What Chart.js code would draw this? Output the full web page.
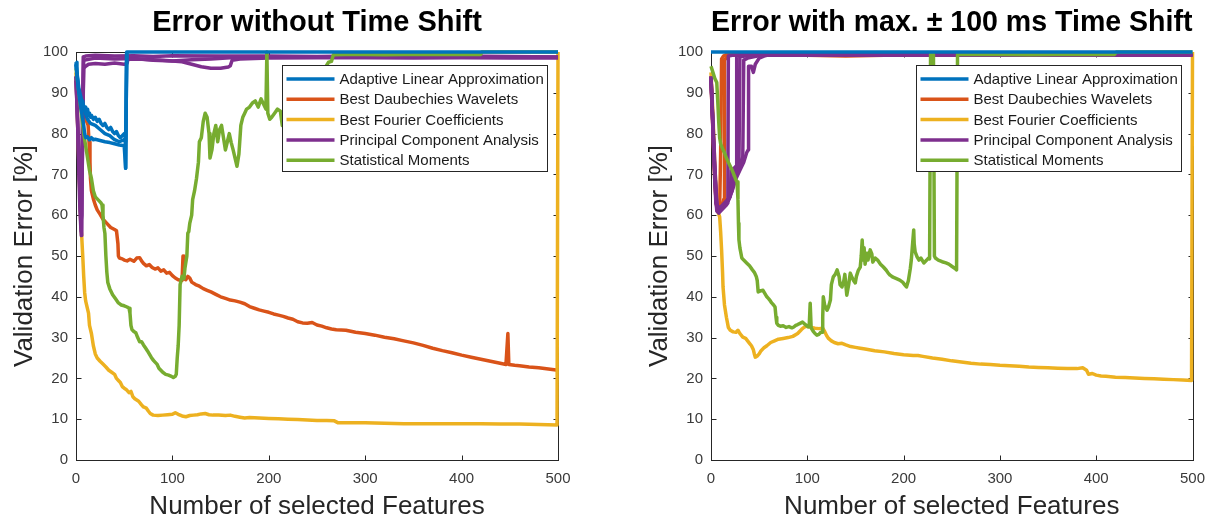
<!DOCTYPE html>
<html>
<head>
<meta charset="utf-8">
<script src="https://cdn.jsdelivr.net/npm/chart.js@4.4.1/dist/chart.umd.min.js"></script>
<style>
  html, body { margin: 0; padding: 0; background: #ffffff; }
  #wrap { position: relative; width: 1216px; height: 520px; overflow: hidden; }
  canvas { position: absolute; top: 0; }
  #leftChart { left: 0; }
  #rightChart { left: 608px; }
</style>
</head>
<body>
<div id="wrap">
  <canvas id="leftChart" width="608" height="520"></canvas>
  <canvas id="rightChart" width="608" height="520"></canvas>
</div>
<script>
// ---- labels, ticks, colours ----
const methodNames = [
  'Adaptive Linear Approximation',
  'Best Daubechies Wavelets',
  'Best Fourier Coefficients',
  'Principal Component Analysis',
  'Statistical Moments'
];
const methodColors = ['#0072BD', '#D95319', '#EDB120', '#7E2F8E', '#77AC30'];
// lower number = painted later (on top)
const methodLayer = [0, 4, 3, 2, 1];

const xTicks = [0, 100, 200, 300, 400, 500];
const yTicks = [0, 10, 20, 30, 40, 50, 60, 70, 80, 90, 100];

const leftTitle = 'Error without Time Shift';
const rightTitle = 'Error with max. \u00B1 100 ms Time Shift';
const xAxisTitle = 'Number of selected Features';
const yAxisTitle = 'Validation Error [%]';

// ---- validation error [%] vs. number of selected features, no time shift ----
const noShiftALA1 = [[0,97.5],[1,95],[2,92],[3,90],[4,89],[5,88.5],[6,87],[7,88],[8,86.5],[9,86],[10,86.5],[11,85],[12,86],[13,84.5],[14,85],[15,84],[16,84.5],[18,83.5],[20,84],[22,83],[24,83.5],[26,82.5],[28,82],[30,82.5],[32,81.5],[34,81],[36,81.5],[38,80.5],[40,80],[42,80.5],[44,79.5],[46,79],[48,79.5],[50,80],[51,79.5],[51.5,71.5],[52.6,100],[500,100]];
const noShiftALA2 = [[0,97],[2,92],[4,88],[6,85],[8,82],[9,80],[10,79],[12,79.2],[14,78.5],[16,79],[18,78.5],[20,78.6],[25,78.3],[30,78],[35,77.8],[40,77.5],[45,77.2],[50,77],[51.5,71.5],[52.6,100]];
const noShiftALA3 = [[0,97],[3,91],[6,88],[9,85.5],[12,83.5],[15,82.5],[20,82],[25,81],[30,80],[35,79.5],[40,78.5],[45,78],[50,78.5],[51.5,78],[52.6,100]];
const noShiftBDW = [[0,93],[3,90],[6,87.5],[9,85],[11,83],[12.6,82],[13.5,78],[14.5,73],[15,69],[16,66],[17,65],[18,64],[20,62.5],[22,61.3],[25,60.2],[28,59],[32,58],[36,57],[40,56.5],[42,56.2],[43.5,53],[44,50],[45,49.5],[48,49.3],[50,49],[53,48.8],[56,49.2],[60,48.7],[63,49.5],[66,49.6],[68,48.8],[70,48.2],[73,47.6],[76,47.9],[79,47.2],[82,46.8],[85,47.1],[88,46.3],[91,46.6],[94,45.8],[97,46],[100,45.2],[103,44.6],[106,44.2],[110,44],[111,50],[112,44.5],[114,44.2],[116,45],[118,44.6],[120,43.6],[124,43],[128,42.6],[132,42],[136,41.6],[140,41.2],[145,40.6],[150,40],[155,39.6],[160,39.2],[165,39],[170,38.7],[175,38.3],[180,37.6],[185,37.2],[190,36.8],[195,36.5],[200,36.2],[205,35.8],[210,35.5],[215,35.2],[220,34.8],[225,34.5],[230,33.9],[235,33.6],[240,33.5],[245,33.7],[250,33.1],[255,32.8],[260,32.4],[265,32.1],[270,31.9],[280,31.8],[290,31.3],[300,31],[310,30.6],[320,30.1],[330,29.7],[340,29.2],[350,28.7],[360,28.1],[370,27.4],[380,26.8],[390,26.3],[400,25.7],[410,25.2],[420,24.7],[430,24.2],[440,23.7],[446,23.4],[448,31],[449,23.4],[455,23.2],[460,23.1],[470,22.8],[480,22.6],[490,22.3],[500,22]];
const noShiftBFC = [[0,95],[2,80],[4,65],[5,58],[6,54.5],[7,50],[8,45],[9,41],[10,39],[12,37],[13,36],[14,33],[16,31],[18,28],[20,26],[22,25],[25,24.2],[28,23.5],[31,22.8],[34,22],[37,21.5],[40,21],[42,20],[44,19.5],[46,19],[48,18],[50,17.6],[52,17.3],[55,16.5],[57,16.8],[59,15.5],[61,15],[63,14.7],[65,14.4],[68,13.5],[70,13],[73,12.7],[75,12],[77,11.4],[80,11],[85,10.9],[90,11],[95,11.1],[100,11.2],[103,11.6],[106,11.2],[110,10.8],[114,10.6],[118,10.9],[122,11],[126,11.1],[130,11.3],[134,11.4],[138,11.1],[142,11],[148,11],[155,10.9],[160,11],[165,10.7],[170,10.5],[175,10.3],[180,10.4],[190,10.3],[200,10.2],[210,10.1],[220,10],[230,9.9],[240,9.8],[250,9.7],[260,9.7],[268,9.6],[272,9.1],[280,9.1],[300,9.1],[320,9],[340,8.9],[360,8.9],[380,8.9],[400,8.9],[420,8.9],[440,8.8],[460,8.8],[480,8.7],[499,8.6],[500,100]];
const noShiftPCA1 = [[0,94],[1,88],[2,80],[3,70],[4,62],[5,57],[5.5,55],[6,70],[7,90],[7.5,98.8],[10,99],[20,99.2],[40,99],[60,99.1],[80,98.9],[100,99.1],[150,99],[200,99],[250,98.9],[300,99],[350,98.9],[400,99],[450,98.9],[500,98.8]];
const noShiftPCA2 = [[0,93],[3,75],[5,58],[6,60],[7,85],[8,96],[10,96.5],[13,97],[20,97.2],[30,97],[40,97.3],[50,97],[53,97.2],[54,98.3],[70,98.2],[90,98],[110,97.6],[120,97],[130,96.4],[140,96],[150,96],[158,96.3],[160,96.6],[162,98],[170,98.3],[200,98.5],[250,98.6],[300,98.6],[350,98.5],[400,98.6],[450,98.5],[500,98.5]];
const noShiftPCA3 = [[0,94],[4,66],[5.5,56],[7,80],[8,98],[20,98.5],[40,98.3],[60,98.4],[80,98],[100,97.8],[120,98.1],[140,98.3],[160,98.6],[200,98.8],[300,98.7],[400,98.8],[500,98.8]];
const noShiftSM = [[0,96],[2,92],[4,88],[6,84],[8,80],[10,77],[12,74],[14,71],[16,69],[18,66],[20,64.5],[22,64],[24,63.5],[26,63],[27,62.5],[28,60],[29,57],[30,55.5],[31,50],[32,46],[33,43.5],[35,42],[38,40.5],[41,39.5],[44,38.5],[47,38],[50,37.8],[53,37.5],[55,37.2],[56,36],[57,33],[58,32],[60,31.5],[62,31.2],[64,30],[66,29],[68,29],[70,28.2],[72,27.5],[74,26.8],[76,26],[78,25.2],[80,24.5],[82,24],[84,23.5],[86,22.5],[88,22],[90,21.5],[93,21],[96,20.8],[99,20.5],[101,20.2],[103,20.5],[104,21],[105,25],[106,28],[107,33],[108,43],[110,45],[112,44.5],[113,47],[115,50],[116,55.6],[117,56],[118,58],[120,60],[121,63.8],[123,66],[125,69],[127,73],[128,78],[130,79],[132,83],[134,85],[136,84],[138,80],[139,74],[141,76],[143,80],[145,82],[147,78],[149,81],[151,82],[153,79],[155,76],[157,78],[159,80],[161,77.8],[163,76],[165,74],[167,72],[169,75],[171,82],[173,84],[175,85],[177,86],[180,86.5],[183,87.5],[186,88],[189,86.5],[192,88.5],[195,87],[197,86],[198,100],[199,85],[201,83.5],[203,84],[206,85],[209,86],[212,85.5],[214,82],[216,81.7],[220,83],[228,85],[236,87],[244,90],[252,93],[258,96],[262,97.5],[265,97.7],[267,99.3],[280,99.4],[300,99.4],[320,99.3],[340,99.4],[360,99.4],[380,99.4],[400,99.4],[420,99.4],[421,100],[440,100],[500,100]];

// ---- validation error [%] vs. number of selected features, max. +-100 ms shift ----
const shiftALA = [[0,100],[100,100],[200,100],[300,100],[400,100],[500,100]];
const shiftBDW1 = [[0,94],[2,82],[4,70],[5,64],[6,62],[8,61.5],[9,62],[10,75],[11,98.3],[13,99],[16,99.4],[30,99.4],[60,99.3],[100,99.2],[140,99],[180,99.2],[250,99.3],[350,99.3],[500,99.3]];
const shiftBDW2 = [[0,93],[4,68],[6,62],[10,62.5],[12,63],[13.5,64],[14,98],[18,99.2],[40,99.3],[100,99.2],[200,99.2],[300,99.3],[500,99.2]];
const shiftBFC = [[0,95],[2,85],[4,72],[6,64],[7,61],[9,59.6],[10,56],[11,51.5],[12,46],[12.5,42.4],[14,38],[16,35],[18,32.5],[20,31.8],[23,31.4],[26,31.3],[28,31.8],[30,31],[33,30.1],[36,29.8],[38,29.2],[40,28.6],[42,28],[44,27],[45,26],[46,25.2],[48,25.5],[50,26],[52,26.8],[55,27.5],[58,28],[62,28.8],[66,29.2],[70,29.6],[75,29.8],[80,30],[85,30.3],[90,31],[94,32],[97,32.6],[100,32.8],[104,32.5],[108,32.3],[112,32.2],[116,32.3],[118,31.5],[120,30.5],[122,29.8],[125,29.2],[128,28.8],[132,28.5],[136,28.6],[140,28.2],[145,27.8],[150,27.6],[155,27.4],[160,27.2],[170,26.8],[180,26.5],[190,26.1],[200,25.8],[210,25.6],[215,25.6],[220,25.4],[230,25],[240,24.7],[250,24.3],[260,24],[270,23.7],[280,23.5],[290,23.4],[300,23.2],[310,23.1],[320,23],[330,22.8],[340,22.7],[350,22.6],[360,22.5],[370,22.4],[380,22.4],[386,22.6],[390,22],[392,21],[396,21.2],[400,20.8],[405,20.6],[410,20.5],[420,20.3],[430,20.2],[440,20.1],[450,20],[460,19.9],[470,19.8],[480,19.7],[490,19.6],[499,19.5],[500,100]];
const shiftPCA1 = [[0,94],[2,82],[4,68],[6,61],[8,60.5],[10,61],[12,61.5],[14,62],[16,62.5],[17.5,63],[18,99],[22,99.2],[30,99.3],[50,99.4],[100,99.3],[200,99.3],[300,99.3],[400,99.3],[500,99.3]];
const shiftPCA2 = [[0,93],[3,75],[6,62],[10,62],[14,63],[18,64],[20,65],[21,71],[24,71.5],[26,72],[26.7,99],[35,99.2],[60,99.4],[500,99.3]];
const shiftPCA3 = [[0,94],[4,70],[7,61],[12,62],[16,63],[20,64.5],[22,68],[25,70],[28,71.5],[31,73],[33,74.3],[34,98],[38,98.5],[48,99],[60,99.3],[500,99.3]];
const shiftPCA4 = [[0,93.5],[5,63],[9,61],[14,62.5],[18,64],[22,66],[26,69],[30,71],[34,73],[37,75.3],[38.5,76],[39,96.5],[42,96.5],[44,95],[46,97],[50,98.5],[55,99],[61,99.4],[500,99.2]];
const shiftPCA5 = [[0,94],[6,61.5],[12,62],[18,63.5],[22,66],[25,71],[29,72],[30,98.8],[40,99.2],[500,99.3]];
const shiftSM = [[0,96.5],[2,95],[4,93.5],[6,92.5],[7,88],[8,83],[9,79],[10,77.5],[12,76.3],[14,75.3],[16,74],[18,73],[20,72],[22,71],[24,69.8],[26,68.6],[27,68.2],[28,63.8],[28.5,58],[29,54],[30,52],[32,49.5],[34,49],[37,48.3],[40,47.6],[43,46.6],[45,46],[47,45],[48,44],[49,41.2],[52,41.5],[54,41.6],[56,40.8],[58,40],[60,39.5],[61,39.2],[63,38.5],[65,38],[66.5,37.5],[67.5,35],[68.3,33.5],[70,33],[72,32.8],[75,32.9],[78,32.5],[81,32.7],[84,32.4],[86,32.6],[88,33],[90,33.2],[92.5,33.5],[95,33.8],[97,33.4],[99,33],[101,32.6],[102,33],[103,38.4],[104,32.4],[106,31.6],[108,31],[110,30.6],[112,30.8],[114,31.3],[115.4,31.3],[116,35],[116.6,40],[118,38],[120.5,36.7],[122,37.5],[124,39.2],[125,43],[127,44.9],[129,45.5],[131,46.6],[133,45],[134,43],[136,42.4],[138,44],[139,45.5],[140,43],[141,40.4],[143,43],[144.6,45.8],[146,45],[148,44],[149.8,43.4],[151,45],[153,46.5],[155,47.3],[156,50],[157,53.9],[158,49],[159,52],[160,48],[162,50.7],[163,49],[165.3,51.5],[167,50.5],[168,48.5],[170.5,49.5],[173,49],[176,48],[179,47.3],[182,46.5],[184,45.8],[186,45.3],[189,44.8],[192,44.5],[196,44.1],[199,43.6],[201,43],[203,42.4],[205,44],[207,47],[208,49],[209,52],[210.5,56.4],[211,53],[212,51],[214,49.8],[216,49],[218,49.5],[221,48.3],[224,49],[226,49.5],[227,49.3],[228,99.4],[231,99.4],[232,50],[233,49.5],[236,49],[240,48.6],[244,48.3],[247,48],[250,47.5],[253,47],[255,46.6],[256,99.4],[270,99.4],[300,99.4],[330,99.3],[360,99.4],[390,99.4],[419,99.4],[421,100],[440,100],[500,100]];

// each trace: which method it belongs to and its points
const leftTraces = [
  { m: 0, pts: noShiftALA1 }, { m: 0, pts: noShiftALA2 }, { m: 0, pts: noShiftALA3 },
  { m: 1, pts: noShiftBDW },
  { m: 2, pts: noShiftBFC },
  { m: 3, pts: noShiftPCA1 }, { m: 3, pts: noShiftPCA2 }, { m: 3, pts: noShiftPCA3 },
  { m: 4, pts: noShiftSM }
];
const rightTraces = [
  { m: 0, pts: shiftALA },
  { m: 1, pts: shiftBDW1 }, { m: 1, pts: shiftBDW2 },
  { m: 2, pts: shiftBFC },
  { m: 3, pts: shiftPCA1 }, { m: 3, pts: shiftPCA2 }, { m: 3, pts: shiftPCA3 },
  { m: 3, pts: shiftPCA4 }, { m: 3, pts: shiftPCA5 },
  { m: 4, pts: shiftSM }
];

const FONT = '"Liberation Sans", Arial, Helvetica, sans-serif';
const AXIS_INK = '#262626';

// axes box with inward tick marks on all four sides (drawn below the data)
const boxPlugin = {
  id: 'axesBox',
  beforeDatasetsDraw(chart) {
    const { ctx, chartArea: a, scales } = chart;
    const L = Math.round(a.left) + 0.5, R = Math.round(a.right) + 0.5;
    const T = Math.round(a.top) + 0.5, B = Math.round(a.bottom) + 0.5;
    const tl = 5;
    ctx.save();
    ctx.strokeStyle = AXIS_INK;
    ctx.lineWidth = 1;
    ctx.strokeRect(L, T, R - L, B - T);
    ctx.beginPath();
    xTicks.forEach(v => {
      const px = Math.round(scales.x.getPixelForValue(v)) + 0.5;
      ctx.moveTo(px, B); ctx.lineTo(px, B - tl);
      ctx.moveTo(px, T); ctx.lineTo(px, T + tl);
    });
    yTicks.forEach(v => {
      const py = Math.round(scales.y.getPixelForValue(v)) + 0.5;
      ctx.moveTo(L, py); ctx.lineTo(L + tl, py);
      ctx.moveTo(R, py); ctx.lineTo(R - tl, py);
    });
    ctx.stroke();
    ctx.restore();
  }
};

// boxed legend in the upper right of the plot area
const boxLegendPlugin = {
  id: 'boxLegend',
  afterDatasetsDraw(chart) {
    const { ctx, chartArea: a } = chart;
    const w = 265, h = 106;
    const x0 = Math.round(a.right - 11.5 - w) + 0.5;
    const y0 = Math.round(a.top + 13) + 0.5;
    ctx.save();
    ctx.fillStyle = '#ffffff';
    ctx.fillRect(x0, y0, w, h);
    ctx.strokeStyle = AXIS_INK;
    ctx.lineWidth = 1;
    ctx.strokeRect(x0, y0, w, h);
    ctx.font = '15px ' + FONT;
    ctx.textBaseline = 'middle';
    ctx.textAlign = 'left';
    methodNames.forEach((name, i) => {
      const cy = y0 + 13.5 + i * 20.3;
      ctx.strokeStyle = methodColors[i];
      ctx.lineWidth = 3.5;
      ctx.beginPath();
      ctx.moveTo(x0 + 4, cy);
      ctx.lineTo(x0 + 52, cy);
      ctx.stroke();
      ctx.fillStyle = '#1a1a1a';
      ctx.fillText(name, x0 + 57, cy + 1);
    });
    ctx.restore();
  }
};

function makeChart(canvasId, titleText, traces, padLeft, padRight) {
  const datasets = traces.map(t => ({
    label: methodNames[t.m],
    data: t.pts.map(p => ({ x: p[0], y: p[1] })),
    borderColor: methodColors[t.m],
    backgroundColor: methodColors[t.m],
    borderWidth: 3.5,
    borderJoinStyle: 'round',
    pointRadius: 0,
    tension: 0,
    fill: false,
    clip: 4,
    order: methodLayer[t.m]
  }));

  return new Chart(document.getElementById(canvasId), {
    type: 'line',
    data: { datasets },
    options: {
      responsive: false,
      animation: false,
      devicePixelRatio: 1,
      layout: { padding: { left: padLeft, right: padRight, top: 0, bottom: 0 } },
      plugins: {
        legend: { display: false },
        tooltip: { enabled: false },
        title: {
          display: true,
          text: titleText,
          fullSize: false,
          color: '#000000',
          font: { family: FONT, size: 29, weight: 'bold' },
          padding: { top: 6, bottom: 11.2 }
        }
      },
      scales: {
        x: {
          type: 'linear',
          min: 0, max: 500,
          afterBuildTicks: s => { s.ticks = xTicks.map(v => ({ value: v })); },
          afterFit: s => { s.height = 60; },
          grid: { display: false, drawTicks: false },
          border: { display: false },
          ticks: { font: { family: FONT, size: 15 }, color: '#3a3a3a', padding: 10, maxRotation: 0 },
          title: {
            display: true, text: xAxisTitle, color: AXIS_INK,
            font: { family: FONT, size: 26 }, padding: { top: 0, bottom: -2 }
          }
        },
        y: {
          type: 'linear',
          min: 0, max: 100,
          afterBuildTicks: s => { s.ticks = yTicks.map(v => ({ value: v })); },
          afterFit: s => { s.width = 76; },
          grid: { display: false, drawTicks: false },
          border: { display: false },
          ticks: { font: { family: FONT, size: 15 }, color: '#3a3a3a', padding: 8 },
          title: {
            display: true, text: yAxisTitle, color: AXIS_INK,
            font: { family: FONT, size: 26 }, padding: { top: 9, bottom: 0 }
          }
        }
      }
    },
    plugins: [boxPlugin, boxLegendPlugin]
  });
}

makeChart('leftChart', leftTitle, leftTraces, 0, 50);
makeChart('rightChart', rightTitle, rightTraces, 27, 23.5);
</script>
</body>
</html>
